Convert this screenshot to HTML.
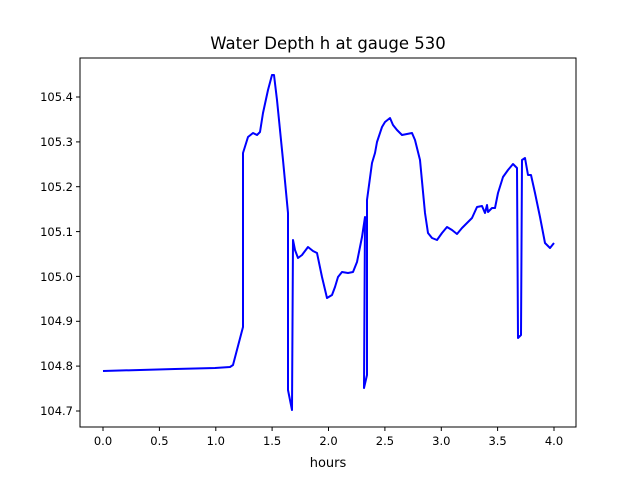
<!DOCTYPE html>
<html><head><meta charset="utf-8"><style>body{margin:0;background:#fff}svg{display:block;font-family:"DejaVu Sans","Liberation Sans",sans-serif}</style></head><body>
<svg width="640" height="480" viewBox="0 0 640 480">
<rect x="80" y="58" width="496" height="369" fill="#fff" stroke="#000" stroke-width="1"/>
<text x="328" y="49" font-size="16.5" text-anchor="middle">Water Depth h at gauge 530</text>
<g stroke="#000" stroke-width="1">
<line x1="103" y1="427" x2="103" y2="431"/><line x1="159.4" y1="427" x2="159.4" y2="431"/><line x1="215.8" y1="427" x2="215.8" y2="431"/><line x1="272.1" y1="427" x2="272.1" y2="431"/><line x1="328.5" y1="427" x2="328.5" y2="431"/><line x1="384.9" y1="427" x2="384.9" y2="431"/><line x1="441.3" y1="427" x2="441.3" y2="431"/><line x1="497.6" y1="427" x2="497.6" y2="431"/><line x1="554" y1="427" x2="554" y2="431"/>
<line x1="76" y1="411" x2="80" y2="411"/><line x1="76" y1="366.1" x2="80" y2="366.1"/><line x1="76" y1="321.3" x2="80" y2="321.3"/><line x1="76" y1="276.4" x2="80" y2="276.4"/><line x1="76" y1="231.6" x2="80" y2="231.6"/><line x1="76" y1="186.7" x2="80" y2="186.7"/><line x1="76" y1="141.9" x2="80" y2="141.9"/><line x1="76" y1="97" x2="80" y2="97"/>
</g>
<g font-size="11.5" text-anchor="middle">
<text x="103" y="445">0.0</text><text x="159.4" y="445">0.5</text><text x="215.8" y="445">1.0</text><text x="272.1" y="445">1.5</text><text x="328.5" y="445">2.0</text><text x="384.9" y="445">2.5</text><text x="441.3" y="445">3.0</text><text x="497.6" y="445">3.5</text><text x="554" y="445">4.0</text>
<text x="328" y="467" font-size="13">hours</text>
</g>
<g font-size="11.5" text-anchor="end">
<text x="73" y="415">104.7</text><text x="73" y="370">104.8</text><text x="73" y="325">104.9</text><text x="73" y="281">105.0</text><text x="73" y="236">105.1</text><text x="73" y="191">105.2</text><text x="73" y="146">105.3</text><text x="73" y="101">105.4</text>
</g>
<polyline fill="none" stroke="#0000ff" stroke-width="2" stroke-linejoin="round" points="103,371 175,369 215,368 230,367 233,365 243,327 243,153 248,137 253,133 257,135 260,132 263,113 268,90 272,75 274,75 277,100 283,160 288,213 288,390 292,410 293,240 295,250 298,258 302,255 308,247 313,251 317,253 322,277 327,298 332,295 335,287 338,277 342,272 348,273 353,272 357,262 362,237 365,217 364,388 367,375 367,200 372,163 375,153 377,142 382,127 385,122 390,118 393,125 397,130 402,135 412,133 415,140 420,160 425,213 428,233 432,238 437,240 442,233 447,227 452,230 457,234 462,228 467,223 472,218 477,207 482,206 485,213 487,205 488,212 492,208 495,208 498,193 503,177 508,170 513,164 517,168 518,338 521,335 522,160 525,158 528,175 531,175 535,193 540,217 545,243 550,248 554,243"/>
</svg>
</body></html>
